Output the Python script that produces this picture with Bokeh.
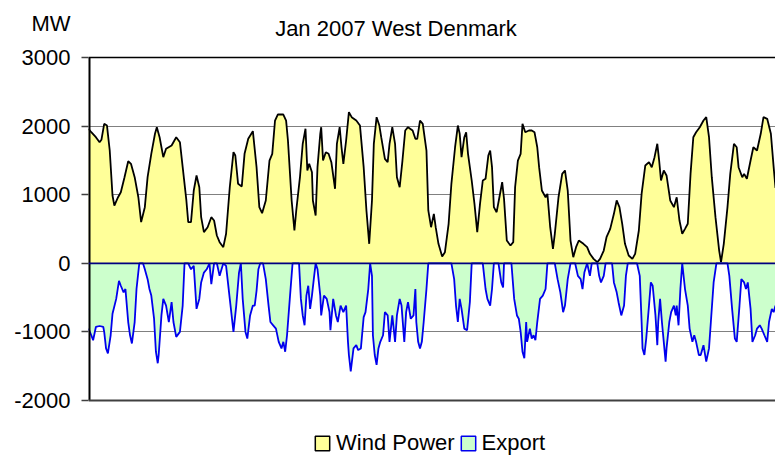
from bokeh.plotting import figure
from bokeh.models import (ColumnDataSource, Range1d, Span, Label, Legend, LegendItem,
                          FixedTicker)
from bokeh.embed import file_html
from bokeh.resources import INLINE

# ---- data (hour of January 2007, MW) ----
wind_hour = [0, 3, 8, 12, 14, 17, 20, 23, 26, 28,
             32, 35, 39, 43, 46, 50, 54, 57, 61, 64,
             68, 72, 74, 77, 81, 84, 90, 95, 99, 102,
             106, 108, 111, 114, 117, 120, 122, 125, 129, 133,
             136, 139, 142, 146, 149, 153, 157, 159, 162, 166,
             169, 173, 178, 182, 185, 188, 192, 196, 199, 202,
             205, 211, 214, 216, 220, 223, 225, 229, 232, 235,
             237, 239, 242, 243, 246, 248, 251, 252, 254, 257,
             260, 263, 267, 269, 272, 274, 276, 279, 282, 285,
             290, 294, 298, 301, 304, 307, 309, 312, 315, 317,
             321, 324, 326, 329, 332, 334, 337, 340, 343, 346,
             351, 354, 356, 359, 362, 366, 368, 371, 374, 376,
             379, 383, 386, 390, 393, 397, 400, 402, 404, 407,
             409, 411, 415, 418, 421, 424, 427, 430, 433, 435,
             437, 439, 442, 445, 448, 450, 453, 457, 460, 462,
             465, 468, 470, 473, 477, 480, 483, 486, 488, 491,
             495, 497, 500, 503, 505, 509, 513, 516, 519, 522,
             525, 528, 531, 536, 540, 543, 547, 551, 554, 558,
             561, 565, 569, 572, 575, 578, 581, 585, 589, 592,
             596, 599, 603, 607, 610, 613, 616, 618, 620, 623,
             626, 630, 634, 637, 640, 643, 646, 649, 652, 655,
             658, 662, 666, 669, 672, 675, 679, 683, 685, 688,
             692, 695, 699, 702, 704, 708, 710, 713, 717, 720,
             724, 728, 731, 735, 739, 742, 744]
wind_mw = [1961, 1911, 1838, 1765, 1800, 2033, 2008, 1644, 988, 842,
           963, 1036, 1255, 1488, 1450, 1255, 963, 600, 818, 1255,
           1596, 1888, 1984, 1838, 1547, 1669, 1717, 1838, 1765, 1401,
           916, 600, 600, 1061, 1280, 1109, 672, 454, 526, 672,
           624, 405, 308, 235, 430, 1109, 1620, 1571, 1159, 1120,
           1596, 1815, 1926, 1401, 818, 730, 916, 1498, 1596, 2081,
           2169, 2169, 2081, 1790, 916, 478, 770, 1255, 1742, 1961,
           1353, 1450, 1328, 916, 697, 1401, 1888, 1984, 1498, 1620,
           1596, 1474, 1086, 1742, 1984, 1692, 1450, 1790, 2203, 2130,
           2081, 2008, 1401, 770, 284, 916, 1742, 2130, 2008, 1838,
           1523, 1474, 1742, 1984, 1742, 1255, 1109, 1498, 1936, 1984,
           1936, 1815, 1815, 2081, 2033, 1644, 770, 526, 721, 526,
           284, 99, 162, 576, 1159, 1692, 2008, 1888, 1547, 1838,
           1911, 1596, 1207, 867, 454, 867, 1207, 1232, 1571, 1644,
           1401, 818, 745, 963, 1182, 940, 332, 259, 308, 1109,
           1498, 1596, 2033, 1911, 1936, 1936, 1911, 1692, 1401, 1061,
           963, 1013, 526, 211, 430, 963, 1304, 1353, 1061, 332,
           89, 235, 332, 284, 235, 138, 65, 16, 65, 186,
           380, 502, 721, 916, 818, 576, 284, 114, 65, 138,
           478, 1013, 1426, 1474, 1401, 1547, 1742, 1498, 1207, 1353,
           1280, 916, 818, 963, 624, 430, 502, 576, 1304, 1838,
           1911, 1984, 2081, 2130, 1838, 1255, 672, 186, 16, 284,
           818, 1304, 1742, 1692, 1401, 1255, 1304, 1232, 1498, 1692,
           1644, 1888, 2130, 2106, 1888, 1401, 1100]

export_hour = [0, 3, 5, 8, 12, 16, 17, 19, 21, 24,
               26, 30, 33, 35, 38, 40, 43, 45, 47, 50,
               52, 55, 59, 61, 64, 66, 68, 71, 73, 75,
               76, 79, 81, 84, 87, 90, 92, 95, 99, 102,
               104, 108, 111, 114, 117, 120, 122, 125, 128, 131,
               133, 136, 139, 142, 146, 149, 153, 157, 160, 163,
               165, 167, 170, 172, 175, 178, 180, 182, 184, 186,
               189, 192, 195, 197, 200, 203, 206, 209, 211, 213,
               215, 218, 221, 228, 230, 232, 234, 236, 238, 240,
               242, 244, 246, 248, 251, 252, 255, 258, 261, 262,
               265, 268, 270, 273, 276, 279, 281, 282, 284, 287,
               290, 292, 295, 298, 300, 303, 305, 307, 308, 310,
               312, 314, 316, 319, 321, 324, 326, 329, 332, 334,
               337, 339, 342, 344, 346, 349, 352, 354, 355, 357,
               359, 361, 363, 366, 368, 393, 396, 398, 400, 402,
               404, 407, 410, 413, 415, 427, 430, 432, 435, 437,
               439, 444, 447, 449, 450, 458, 461, 464, 466, 468,
               470, 472, 474, 475, 478, 480, 482, 484, 486, 489,
               492, 495, 497, 505, 508, 511, 514, 516, 519, 522,
               527, 530, 533, 535, 537, 540, 543, 545, 551, 553,
               555, 558, 560, 567, 569, 572, 574, 577, 580, 582,
               584, 594, 597, 599, 600, 602, 604, 607, 609, 611,
               614, 616, 617, 619, 621, 623, 625, 626, 629, 631,
               634, 636, 637, 639, 641, 643, 646, 649, 651, 654,
               656, 658, 661, 663, 666, 669, 672, 674, 677, 680,
               692, 694, 697, 700, 702, 705, 707, 710, 712, 714,
               717, 719, 722, 724, 727, 729, 732, 735, 737, 740,
               742, 744]
export_mw = [-952, -1049, -1121, -928, -914, -928, -1000, -1241, -1313, -1049,
             -736, -519, -255, -327, -423, -375, -856, -1049, -1169, -856,
             -375, 0, 0, -87, -231, -375, -471, -808, -1289, -1457,
             -1337, -760, -519, -616, -856, -567, -856, -1073, -1000, -616,
             0, 0, -87, -38, -664, -519, -279, -135, -87, 0,
             -303, 0, 0, -183, 0, -38, -519, -1000, -616, -135,
             0, -519, -1000, -1097, -760, -616, -616, -400, -87, 0,
             0, -231, -616, -856, -904, -952, -1145, -1241, -1145, -1289,
             -1049, -519, 0, 0, -519, -760, -904, -471, -327, -664,
             -471, -231, 0, -87, -471, -760, -471, -519, -712, -976,
             -519, -760, -856, -616, -712, -616, -1145, -1337, -1577, -1241,
             -1193, -1265, -1241, -784, -712, -375, 0, -183, -1049, -1337,
             -1481, -1241, -1145, -1049, -712, -760, -1145, -760, -1145, -760,
             -519, -616, -1145, -712, -567, -808, -760, -375, -856, -1145,
             -1241, -1145, -856, -375, 0, 0, -231, -616, -856, -519,
             -664, -952, -976, -567, 0, 0, -375, -519, -616, -375,
             0, 0, -279, -351, 0, 0, -519, -760, -808, -1000,
             -1289, -1385, -856, -1145, -952, -1097, -1049, -1121, -856, -519,
             -471, -375, 0, 0, -231, -423, -712, -616, -231, 0,
             0, -183, -231, -375, -135, 0, -183, 0, 0, -183,
             -279, -183, 0, 0, -279, -423, -567, -760, -616, -183,
             0, 0, -183, -856, -1241, -1337, -1097, -616, -279, -327,
             -760, -1193, -856, -519, -856, -1145, -1433, -1241, -856, -712,
             -616, -760, -616, -904, -375, 0, -375, -616, -952, -1145,
             -1049, -1145, -1337, -1337, -1193, -1433, -1241, -856, -279, 0,
             0, -183, -664, -1097, -1145, -616, -231, -279, -375, -279,
             -664, -1145, -1049, -952, -904, -952, -1049, -1145, -856, -664,
             -712, -616]

y_ticks = [-2000, -1000, 0, 1000, 2000, 3000]
y_tick_labels = ["-2000", "-1000", "0", "1000", "2000", "3000"]
grid_ticks = [-1000, 1000, 2000]
title_text = "Jan 2007 West Denmark"
unit_text = "MW"
series_names = ["Wind Power", "Export"]

# ---- layout constants (pixels / label anchors) ----
W, H = 775, 456
LEFT = 88                 # plot area left edge
PLOT_TOP, PLOT_BOTTOM = 57, 400   # pixel rows of 3000 and -2000
Y_MIN, Y_MAX = -2000, 3000
X_MAX = 744
units_per_px = (Y_MAX - Y_MIN) / (PLOT_BOTTOM - PLOT_TOP)
y_start = Y_MIN - (H - PLOT_BOTTOM) * units_per_px
y_end = Y_MAX + PLOT_TOP * units_per_px
unit_y = Y_MAX + (PLOT_TOP - 23) * units_per_px     # "MW" row
title_x = 333
title_y = Y_MAX + (PLOT_TOP - 28) * units_per_px    # title row

FONT = "Liberation Sans"
WIND_FILL = "#FFFF99"
EXPORT_FILL = "#CCFFCC"

wsrc = ColumnDataSource(dict(h=wind_hour, v=wind_mw))
esrc = ColumnDataSource(dict(h=export_hour, v=export_mw))

p = figure(width=W, height=H, output_backend="svg", toolbar_location=None,
           x_range=Range1d(0, X_MAX), y_range=Range1d(y_start, y_end),
           x_axis_location=None,
           min_border_left=LEFT, min_border_right=0, min_border_top=0,
           min_border_bottom=0, background_fill_color="white",
           border_fill_color="white")
p.outline_line_color = None

# left axis: numeric labels plus the unit text; tick marks only at the numbers
yax = p.yaxis[0]
yax.ticker = FixedTicker(ticks=y_ticks + [unit_y], minor_ticks=y_ticks)
yax.bounds = (Y_MIN, unit_y)
overrides = {t: s for t, s in zip(y_ticks, y_tick_labels)}
overrides[unit_y] = unit_text
yax.major_label_overrides = overrides
yax.major_label_text_font = FONT
yax.major_label_text_font_size = "22px"
yax.major_label_text_color = "black"
yax.axis_line_color = None
yax.major_tick_in = 0
yax.major_tick_out = 0
yax.major_tick_line_color = None
yax.minor_tick_in = 0
yax.minor_tick_out = 7
yax.minor_tick_line_color = "#404040"
yax.minor_tick_line_width = 1.5
yax.major_label_standoff = 11

p.xgrid.visible = False
p.ygrid.ticker = FixedTicker(ticks=grid_ticks)
p.ygrid.grid_line_color = "#808080"
p.ygrid.grid_line_width = 1

# series
p.varea(x="h", y1=0, y2="v", source=wsrc, fill_color=WIND_FILL)
p.varea(x="h", y1=0, y2="v", source=esrc, fill_color=EXPORT_FILL)
p.line(x="h", y="v", source=wsrc, line_color="black", line_width=1.8)
p.line(x="h", y="v", source=esrc, line_color="#0000EE", line_width=1.8)

# plot-area border lines
p.add_layout(Span(location=Y_MAX, dimension="width", line_color="black", line_width=1.5))
p.add_layout(Span(location=Y_MIN, dimension="width", line_color="#404040", line_width=2))
p.add_layout(Span(location=0, dimension="width", line_color="#000080", line_width=1.8))
p.line(x=[0, 0], y=[Y_MIN, Y_MAX], line_color="black", line_width=4)

# title
p.add_layout(Label(x=title_x, y=title_y, text=title_text, text_align="center",
                   text_baseline="middle", text_font=FONT, text_font_size="22px",
                   text_color="black"))

# legend swatches: hidden quads on the series sources, styled like the series
q1 = p.quad(left="h", right="h", top=0, bottom=0, source=wsrc, fill_color=WIND_FILL,
            line_color="black", line_width=1.5, visible=False)
q2 = p.quad(left="h", right="h", top=0, bottom=0, source=esrc, fill_color=EXPORT_FILL,
            line_color="#0000EE", line_width=1.5, visible=False)
legend = Legend(items=[LegendItem(label=series_names[0], renderers=[q1]),
                       LegendItem(label=series_names[1], renderers=[q2])],
                location=(225, 0), orientation="horizontal",
                label_text_font=FONT, label_text_font_size="22px",
                label_text_color="black", border_line_color=None,
                background_fill_alpha=0, padding=0, margin=0, spacing=4,
                label_standoff=5, glyph_width=18, glyph_height=18,
                inactive_fill_alpha=0)
p.add_layout(legend)

open("out.html", "w").write(file_html(p, INLINE))
